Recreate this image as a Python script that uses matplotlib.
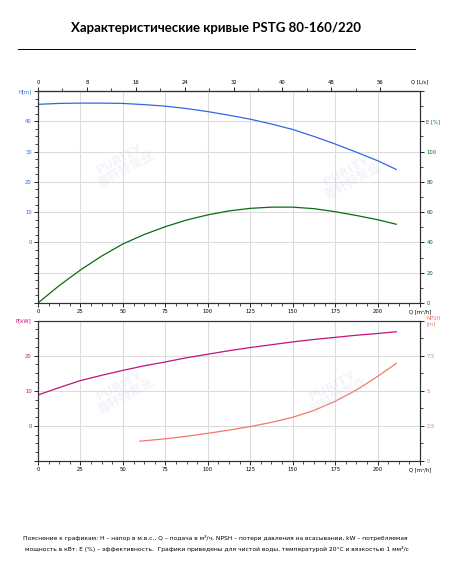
import numpy as np
import matplotlib.pyplot as plt

plt.rcParams['font.family'] = ['DejaVu Sans', 'Noto Sans CJK SC']

# curve data (Q in m3/h)
q_main = [0, 12.5, 25, 37.5, 50, 62.5, 75, 87.5, 100, 112.5, 125, 137.5, 150, 162.5, 175, 187.5, 200, 211]
head = [45.6, 45.9, 46.0, 46.0, 45.9, 45.5, 45.0, 44.2, 43.2, 42.0, 40.7, 39.1, 37.3, 35.0, 32.5, 29.8, 27.0, 24.1]
eff = [0, 11.5, 21.8, 31.0, 39.0, 45.2, 50.4, 54.8, 58.2, 60.8, 62.5, 63.3, 63.3, 62.3, 60.3, 57.8, 55.0, 52.0]
power = [8.8, 10.9, 12.9, 14.4, 15.8, 17.1, 18.2, 19.4, 20.4, 21.4, 22.3, 23.1, 23.9, 24.6, 25.2, 25.8, 26.3, 26.8]
q_npsh = [60, 75, 87.5, 100, 112.5, 125, 137.5, 150, 162.5, 175, 187.5, 200, 211]
npsh = [1.41, 1.58, 1.76, 1.97, 2.2, 2.45, 2.75, 3.11, 3.6, 4.25, 5.05, 6.02, 6.94]

q_ticks = [0, 25, 50, 75, 100, 125, 150, 175, 200, 225]
q_labels = ['0', '25', '50', '75', '100', '125', '150', '175', '200', 'Q [m³/h]']
ls_ticks = [0, 8, 16, 24, 32, 40, 48, 56]

c_h = '#3366e6'
c_e = '#0b6b12'
c_p = '#c0137f'
c_n = '#f27a68'
grid_c = '#dcdcdc'
fs = 3.8

fig = plt.figure(figsize=(4.54, 5.67), dpi=100)

fig.text(0.475, 0.951, 'Характеристические кривые PSTG 80-160/220', ha='center', va='center',
         fontsize=9.5, fontweight='bold', family='Lato')
fig.add_artist(plt.Line2D([18 / 454, 415 / 454], [1 - 48.5 / 567] * 2, color='black', lw=0.7))


def style_axis(ax):
    ax.grid(True, color=grid_c, lw=0.8)
    ax.set_axisbelow(True)
    for s in ax.spines.values():
        s.set_linewidth(0.8)
        s.set_color('#333333')
    ax.set_xlim(0, 225)
    ax.set_xticks(q_ticks)
    ax.set_xticks(np.arange(0, 225.1, 6.25), minor=True)
    ax.tick_params(axis='both', which='major', labelsize=fs, length=3, width=0.6, pad=1.5)
    ax.tick_params(axis='both', which='minor', length=2, width=0.5)


# top: head and efficiency
ax1 = fig.add_axes([38 / 454, 1 - 303 / 567, 382 / 454, 212 / 567])
style_axis(ax1)
ax1.set_xticklabels(q_labels)
ax1.set_ylim(-20, 50)
ax1.set_yticks(range(-20, 51, 10))
ax1.set_yticklabels(['', '', '0', '10', '20', '30', '40', 'H[m]'], color=c_h)
ax1.set_yticks(np.arange(-20, 50.1, 2.5), minor=True)
ax1.plot(q_main, head, color=c_h, lw=0.9)

top = ax1.secondary_xaxis('top', functions=(lambda q: q / 3.6, lambda l: l * 3.6))
top.set_xticks(ls_ticks)
top.set_xticks(np.arange(0, 60, 4), minor=True)
top.tick_params(which='major', labelsize=fs, length=3, width=0.6, pad=1.5)
top.tick_params(which='minor', length=2, width=0.5)
ax1.text(225, 52.2, 'Q [L/s]', ha='center', va='bottom', fontsize=fs, clip_on=False)

ax1r = ax1.twinx()
ax1r.set_ylim(0, 140)
ax1r.set_yticks(range(0, 141, 20))
ax1r.set_yticklabels(['0', '20', '40', '60', '80', '100', 'E [%]', ''], color=c_e)
ax1r.set_yticks(range(0, 141, 10), minor=True)
ax1r.tick_params(axis='y', which='major', labelsize=fs, length=3, width=0.6, pad=1.5)
ax1r.tick_params(axis='y', which='minor', length=2, width=0.5)
for s in ax1r.spines.values():
    s.set_linewidth(0.8)
    s.set_color('#333333')
ax1r.plot(q_main, eff, color=c_e, lw=0.9)

# bottom: power and NPSH
ax2 = fig.add_axes([38 / 454, 1 - 461 / 567, 382 / 454, 140.5 / 567])
style_axis(ax2)
ax2.set_xticklabels(q_labels)
ax2.set_ylim(-10, 30)
ax2.set_yticks(range(-10, 31, 10))
ax2.set_yticklabels(['', '0', '10', '20', 'P[kW]'], color=c_p)
ax2.set_yticks(np.arange(-10, 30.1, 2.5), minor=True)
ax2.plot(q_main, power, color=c_p, lw=0.9)

ax2r = ax2.twinx()
ax2r.set_ylim(0, 10)
ax2r.set_yticks([0, 2.5, 5, 7.5, 10])
ax2r.set_yticklabels(['0', '2.5', '5', '7.5', 'NPSH\n[m]'], color=c_n)
ax2r.set_yticks(np.arange(0, 10.1, 1.25), minor=True)
ax2r.tick_params(axis='y', which='major', labelsize=fs, length=3, width=0.6, pad=1.5)
ax2r.tick_params(axis='y', which='minor', length=2, width=0.5)
for s in ax2r.spines.values():
    s.set_linewidth(0.8)
    s.set_color('#333333')
ax2r.plot(q_npsh, npsh, color=c_n, lw=0.9)

# faint watermarks
for x, y in [(0.27, 0.71), (0.77, 0.69), (0.27, 0.31), (0.74, 0.31)]:
    fig.text(x, y, 'PURITY\n普轩特泵业', ha='center', va='center', fontsize=9, fontweight='bold',
             color='#c8d4e8', alpha=0.25, rotation=28, linespacing=0.9,
             family=['DejaVu Sans', 'Noto Sans CJK SC'], zorder=0)

note1 = ('Пояснение к графикам: H – напор в м.в.с., Q – подача в м³/ч, NPSH – потери давления '
         'на всасывании, kW – потребляемая')
note2 = ('мощность в кВт. E (%) – эффективность.  Графики приведены для чистой воды, '
         'температурой 20°С и вязкостью 1 мм²/с')
fig.text(0.475, 1 - 538 / 567, note1, ha='center', va='center', fontsize=4.3)
fig.text(0.477, 1 - 548.5 / 567, note2, ha='center', va='center', fontsize=4.3)

fig.savefig('out.png', dpi=100)
